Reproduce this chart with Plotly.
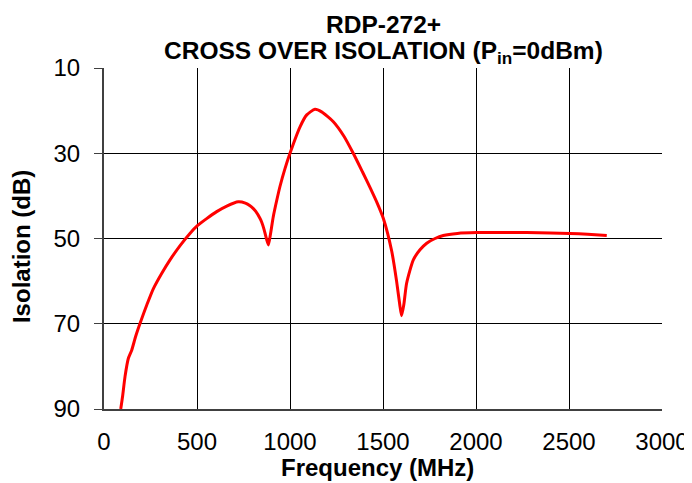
import plotly.graph_objects as go

# Frequency (MHz) and cross-over isolation (dB)
freq_mhz = [90, 100, 113, 131, 149, 170, 194, 230, 265, 310, 355, 410, 462, 502,
            550, 606, 660, 722, 760, 785, 803, 815, 839, 848, 860, 875, 884, 895,
            910, 930, 946, 973, 1000, 1054, 1090, 1134, 1170, 1233, 1290, 1340,
            1390, 1430, 1470, 1502, 1547, 1573, 1590, 1600, 1612, 1627, 1663, 1700,
            1735, 1780, 1824, 1900, 2004, 2150, 2272, 2400, 2505, 2600, 2703]
isolation_db = [90, 87, 82.4, 78.1, 76.2, 73, 69.9, 65.6, 61.8, 58.2, 55, 51.6, 48.8, 47,
                45.4, 43.7, 42.4, 41.4, 41.7, 42.3, 43.0, 43.6, 45.3, 46.2, 47.8, 50.3,
                51.5, 49, 44.9, 40.8, 37.8, 33.6, 30, 23.8, 21, 19.7, 20.3, 22.6, 26, 30,
                34.4, 38.0, 41.8, 45.3, 53, 60, 65.5, 68.1, 65.5, 60.5, 55, 52.6,
                51.1, 50, 49.3, 48.8, 48.6, 48.6, 48.6, 48.7, 48.8, 49, 49.3]

x_ticks = [0, 500, 1000, 1500, 2000, 2500, 3000]
y_ticks = [10, 30, 50, 70, 90]

FONT = "Liberation Sans, Arial, sans-serif"

# The page body adds an 8px offset; the figure is sized/margined to compensate.
fig = go.Figure()
fig.add_trace(go.Scatter(x=freq_mhz, y=isolation_db, mode="lines",
                         line=dict(color="#FF0000", width=3, shape="spline",
                                   smoothing=0.6),
                         showlegend=False))

fig.update_layout(
    width=684, height=475,
    margin=dict(l=96, r=30, t=60, b=74, autoexpand=False),
    paper_bgcolor="white", plot_bgcolor="white",
    font=dict(family=FONT, color="black"),
    xaxis=dict(range=[0, 3000], tickvals=x_ticks, ticks="",
               showgrid=True, gridcolor="black", gridwidth=1,
               showline=True, linecolor="#404040", linewidth=2,
               tickfont=dict(size=24, family=FONT), ticklabelstandoff=10,
               zeroline=False, automargin=False),
    yaxis=dict(range=[90, 10], tickvals=y_ticks, ticks="outside", ticklen=8,
               tickcolor="#404040", tickwidth=1,
               showgrid=True, gridcolor="black", gridwidth=1,
               showline=True, linecolor="#404040", linewidth=2,
               tickfont=dict(size=24, family=FONT), ticklabelstandoff=9,
               zeroline=False, automargin=False),
    annotations=[
        dict(text="<b>RDP-272+</b>", xref="paper", yref="paper", x=0.5, y=1.129,
             showarrow=False, xanchor="center", yanchor="middle",
             font=dict(size=24.5, family=FONT)),
        dict(text="<b>CROSS OVER ISOLATION (P<sub>in</sub>=0dBm)</b>", xref="paper",
             yref="paper", x=0.5, y=1.045, showarrow=False, xanchor="center",
             yanchor="middle", font=dict(size=24.5, family=FONT)),
        dict(text="<b>Frequency (MHz)</b>", xref="paper", yref="paper", x=0.491,
             y=-0.173, showarrow=False, xanchor="center", yanchor="middle",
             font=dict(size=24, family=FONT)),
        dict(text="<b>Isolation (dB)</b>", xref="paper", yref="paper", x=-0.1487,
             y=0.475, showarrow=False, xanchor="center", yanchor="middle",
             textangle=-90, font=dict(size=24, family=FONT)),
    ],
)

fig.write_html("out.html")
